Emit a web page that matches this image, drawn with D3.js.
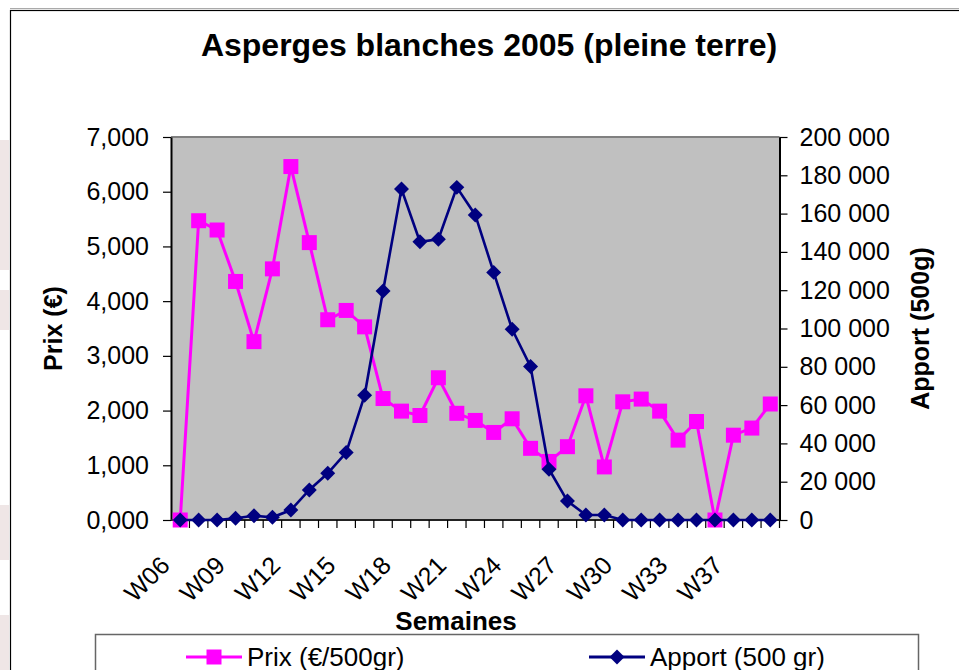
<!DOCTYPE html>
<html>
<head>
<meta charset="utf-8">
<style>
  body { margin: 0; background: #fff; }
  svg { display: block; font-family: 'Liberation Sans', Arial, sans-serif; }
</style>
</head>
<body>
<svg width="959" height="670"></svg>
<script src="https://d3js.org/d3.v7.min.js"></script>
<script>
// weeks of 2005 (W36 missing in the source)
let weeks = ["W06","W07","W08","W09","W10","W11","W12","W13","W14","W15","W16","W17",
  "W18","W19","W20","W21","W22","W23","W24","W25","W26","W27","W28","W29","W30",
  "W31","W32","W33","W34","W35","W37","W38","W39"];
let weekLabels = ["W06","W09","W12","W15","W18","W21","W24","W27","W30","W33","W37"];

// Prix (€/500gr)
let prix = [0, 5.47, 5.30, 4.36, 3.26, 4.59, 6.46, 5.07, 3.66, 3.83, 3.53, 2.22,
  1.99, 1.91, 2.60, 1.95, 1.82, 1.60, 1.85, 1.31, 1.07, 1.34, 2.27, 0.97, 2.16,
  2.21, 1.99, 1.46, 1.80, 0, 1.55, 1.68, 2.12];

// Apport (500 gr)
let apport = [0, 0, 0, 900, 2200, 1400, 5200, 15700, 24400, 35200, 65100, 119600,
  172800, 145300, 146600, 173700, 159300, 129300, 99600, 80100, 26500, 9900, 2600,
  2600, 0, 0, 0, 0, 0, 0, 0, 0, 0];

let prixTicks = [0, 1, 2, 3, 4, 5, 6, 7];
let apportTicks = [0, 20000, 40000, 60000, 80000, 100000, 120000, 140000, 160000, 180000, 200000];

let svg = d3.select("svg");
let fr = d3.formatLocale({ decimal: ",", thousands: " ", grouping: [3], currency: ["", "€"] });

let pLeft = 171, pRight = 779.5, pTop = 137, pBottom = 520;

// faint background marks at the very left
let ghost = [[140, 130], [290, 40], [505, 55], [615, 60]];
svg.selectAll(".ghost").data(ghost).join("rect")
  .attr("x", 0).attr("y", d => d[0]).attr("width", 9).attr("height", d => d[1])
  .style("fill", "#efe6e6");

// outer frame
svg.append("line").attr("x1", 10).attr("x2", 959).attr("y1", 8.5).attr("y2", 8.5)
  .style("stroke", "#aaa").style("stroke-width", 1);
svg.append("rect").attr("x", 10.5).attr("y", 10.5).attr("width", 1000).attr("height", 700)
  .style("fill", "none").style("stroke", "#000").style("stroke-width", 1.2);

let x = d3.scaleBand().domain(weeks).range([pLeft, pRight]);
let bw = x.bandwidth();
let cx = w => x(w) + bw / 2;
let yL = d3.scaleLinear().domain([0, 7]).range([pBottom, pTop]);
let yR = d3.scaleLinear().domain([0, 200000]).range([pBottom, pTop]);

// plot area
svg.append("rect").attr("x", pLeft).attr("y", pTop).attr("width", pRight - pLeft).attr("height", pBottom - pTop)
  .style("fill", "#c0c0c0");
svg.append("line").attr("x1", pLeft).attr("x2", pRight).attr("y1", pTop).attr("y2", pTop)
  .style("stroke", "#808080").style("stroke-width", 2);

// title
svg.append("text").attr("x", 489).attr("y", 56).attr("text-anchor", "middle")
  .style("font-size", "32px").style("font-weight", "bold").text("Asperges blanches 2005 (pleine terre)");

// left axis
let gL = svg.append("g").attr("transform", `translate(${pLeft},0)`)
  .call(d3.axisLeft(yL).tickValues(prixTicks).tickSize(8).tickSizeOuter(0).tickPadding(14)
    .tickFormat(fr.format(".3f")));
// right axis
let gR = svg.append("g").attr("transform", `translate(${pRight},0)`)
  .call(d3.axisRight(yR).tickValues(apportTicks).tickSize(8).tickSizeOuter(0).tickPadding(12)
    .tickFormat(fr.format(",d")));
[gL, gR].forEach(g => {
  g.select(".domain").style("stroke", "#000").style("stroke-width", 2);
  g.selectAll(".tick line").style("stroke", "#000").style("stroke-width", 1.2);
  g.selectAll("text").style("font-size", "25px").style("fill", "#000").style("font-family", "'Liberation Sans', Arial, sans-serif");
});

// bottom axis
svg.append("line").attr("x1", pLeft).attr("x2", pRight).attr("y1", pBottom).attr("y2", pBottom)
  .style("stroke", "#222").style("stroke-width", 2);
svg.selectAll(".xtick").data(weeks).join("line")
  .attr("x1", d => x(d) + bw).attr("x2", d => x(d) + bw)
  .attr("y1", pBottom).attr("y2", pBottom + 8)
  .style("stroke", "#000").style("stroke-width", 1.2);

svg.selectAll(".xlab").data(weekLabels).join("text")
  .attr("transform", d => `translate(${cx(d) - 9},567) rotate(-45)`)
  .attr("text-anchor", "end")
  .style("font-size", "25px").text(d => d);

// axis titles
svg.append("text").attr("transform", `translate(62,${(pTop + pBottom) / 2}) rotate(-90)`)
  .attr("text-anchor", "middle").style("font-size", "25px").style("font-weight", "bold").text("Prix (€)");
svg.append("text").attr("transform", `translate(929,${(pTop + pBottom) / 2}) rotate(-90)`)
  .attr("text-anchor", "middle").style("font-size", "25px").style("font-weight", "bold").text("Apport (500g)");
svg.append("text").attr("x", 456).attr("y", 630).attr("text-anchor", "middle")
  .style("font-size", "26px").style("font-weight", "bold").text("Semaines");

// series
let pink = "#ff00ff", navy = "#000080";
let linePrix = d3.line().x((d, i) => cx(weeks[i])).y(d => yL(d));
let lineApport = d3.line().x((d, i) => cx(weeks[i])).y(d => yR(d));

svg.append("path").attr("d", linePrix(prix)).style("fill", "none").style("stroke", pink).style("stroke-width", 3);
svg.selectAll(".sq").data(prix).join("path")
  .attr("d", d3.symbol(d3.symbolSquare, 225))
  .attr("transform", (d, i) => `translate(${cx(weeks[i])},${yL(d)})`)
  .style("fill", pink);

svg.append("path").attr("d", lineApport(apport)).style("fill", "none").style("stroke", navy).style("stroke-width", 2.6);
svg.selectAll(".dm").data(apport).join("path")
  .attr("d", d3.symbol(d3.symbolSquare, 112))
  .attr("transform", (d, i) => `translate(${cx(weeks[i])},${yR(d)}) rotate(45)`)
  .style("fill", navy);

// legend
svg.append("rect").attr("x", 95.5).attr("y", 634.5).attr("width", 823).attr("height", 60)
  .style("fill", "#fff").style("stroke", "#666").style("stroke-width", 1.5);
let legend = [
  { label: "Prix (€/500gr)", color: pink, x: 186, sym: "sq" },
  { label: "Apport (500 gr)", color: navy, x: 589, sym: "dm" }
];
let lg = svg.selectAll(".lg").data(legend).join("g")
  .attr("transform", d => `translate(${d.x},657)`);
lg.append("line").attr("x1", 0).attr("x2", 56).style("stroke", d => d.color).style("stroke-width", 3);
lg.append("path")
  .attr("d", d => d3.symbol(d3.symbolSquare, d.sym == "sq" ? 225 : 112)())
  .attr("transform", d => d.sym == "sq" ? "translate(28,0)" : "translate(28,0) rotate(45)")
  .style("fill", d => d.color);
lg.append("text").attr("x", 61).attr("dy", "0.35em").style("font-size", "26px").text(d => d.label);
</script>
</body>
</html>
